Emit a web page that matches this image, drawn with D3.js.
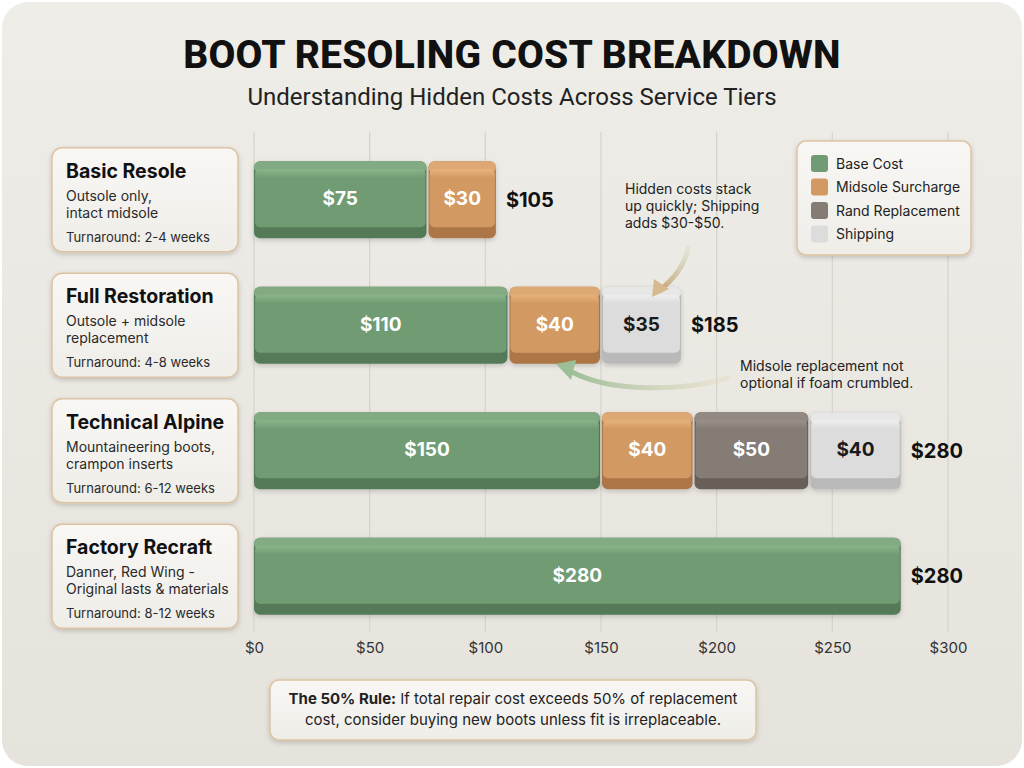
<!DOCTYPE html>
<html><head><meta charset="utf-8">
<script src="https://cdn.jsdelivr.net/npm/d3@7"></script>
<style>
html,body{margin:0;padding:0;background:#fff;}
svg{display:block;font-family:Inter,"Noto Sans",sans-serif;}
</style></head>
<body><svg id="c" width="1024" height="768"></svg>
<script>
const categories = ["Basic Resole","Full Restoration","Technical Alpine","Factory Recraft"];
const descLine1 = ["Outsole only,","Outsole + midsole","Mountaineering boots,","Danner, Red Wing -"];
const descLine2 = ["intact midsole","replacement","crampon inserts","Original lasts & materials"];
const turnaround = ["Turnaround: 2-4 weeks","Turnaround: 4-8 weeks","Turnaround: 6-12 weeks","Turnaround: 8-12 weeks"];
const seriesNames = ["Base Cost","Midsole Surcharge","Rand Replacement","Shipping"];
const baseCost = [75,110,150,280];
const midsole = [30,40,40,0];
const rand = [0,0,50,0];
const shipping = [0,35,40,0];
const tickValues = [0,50,100,150,200,250,300];
const tickLabels = ["$0","$50","$100","$150","$200","$250","$300"];

const colors = {
  "Base Cost":{top:"#8bb48b",mid:"#719c73",dark:"#557a58",text:"#fff"},
  "Midsole Surcharge":{top:"#e6b27c",mid:"#d29a62",dark:"#ad7646",text:"#fff"},
  "Rand Replacement":{top:"#9a918a",mid:"#857c75",dark:"#675f59",text:"#fff"},
  "Shipping":{top:"#efefef",mid:"#dcdcdc",dark:"#b9b9b9",text:"#1a1a1a"}
};

const svg = d3.select("#c");
const defs = svg.append("defs");

const bg = defs.append("linearGradient").attr("id","bg").attr("x1",0).attr("y1",0).attr("x2",0).attr("y2",1);
bg.append("stop").attr("offset","0").attr("stop-color","#efede8");
bg.append("stop").attr("offset","1").attr("stop-color","#e6e3dc");
svg.append("rect").attr("x",2).attr("y",2).attr("width",1020).attr("height",764).attr("rx",26).attr("fill","url(#bg)");

const sh = defs.append("filter").attr("id","sh").attr("x","-10%").attr("y","-10%").attr("width","120%").attr("height","130%");
sh.append("feDropShadow").attr("dx",0).attr("dy",2).attr("stdDeviation",2.5).attr("flood-color","#000").attr("flood-opacity",0.18);

const cardG = defs.append("linearGradient").attr("id","card").attr("x1",0).attr("y1",0).attr("x2",0).attr("y2",1);
cardG.append("stop").attr("offset","0").attr("stop-color","#f8f7f4");
cardG.append("stop").attr("offset","1").attr("stop-color","#efede8");

Object.entries(colors).forEach(([k,c],i)=>{
  const g = defs.append("linearGradient").attr("id","g"+i).attr("x1",0).attr("y1",0).attr("x2",0).attr("y2",1);
  g.append("stop").attr("offset","0").attr("stop-color",c.top);
  g.append("stop").attr("offset","0.15").attr("stop-color",c.mid);
  g.append("stop").attr("offset","1").attr("stop-color",c.mid);
});

svg.append("text").attr("x",512).attr("y",68).attr("text-anchor","middle")
  .attr("font-size",39).attr("font-weight",800).attr("fill","#111").attr("font-family","Roboto, Inter, sans-serif")
  .attr("letter-spacing",0.2).text("BOOT RESOLING COST BREAKDOWN");
svg.append("text").attr("x",512).attr("y",105).attr("text-anchor","middle")
  .attr("font-size",24).attr("fill","#222").attr("font-family","Roboto, Inter, sans-serif")
  .text("Understanding Hidden Costs Across Service Tiers");

const x = d3.scaleLinear().domain([0,300]).range([254,948]);
const y = d3.scaleBand().domain(categories).range([137,639]);

svg.append("g").selectAll("line").data(tickValues).join("line")
  .attr("x1",d=>x(d)).attr("x2",d=>x(d)).attr("y1",132).attr("y2",632)
  .attr("stroke","#d6d3cc").attr("stroke-width",1.2);

const axis = d3.axisBottom(x).tickValues(tickValues).tickFormat((d,i)=>tickLabels[i]).tickSize(0).tickPadding(0);
const ag = svg.append("g").attr("transform","translate(0,642)").call(axis);
ag.select(".domain").remove();
ag.selectAll("text").attr("font-size",15).attr("fill","#333").attr("font-family","Inter, sans-serif");

const cards = svg.append("g").selectAll("g").data(categories).join("g")
  .attr("transform",d=>`translate(52,${y(d)+y.bandwidth()/2-52})`);
cards.append("rect").attr("width",186).attr("height",104).attr("rx",10)
  .attr("fill","url(#card)").attr("stroke","#dcc3a3").attr("stroke-width",1.5).attr("filter","url(#sh)");
cards.append("text").attr("x",14).attr("y",30).attr("font-size",19.5).attr("font-weight",700).attr("fill","#111").text(d=>d);
cards.append("text").attr("x",14).attr("y",53).attr("font-size",14).attr("fill","#2a2a2a").text((d,i)=>descLine1[i]);
cards.append("text").attr("x",14).attr("y",70).attr("font-size",14).attr("fill","#2a2a2a").text((d,i)=>descLine2[i]);
cards.append("text").attr("x",14).attr("y",94).attr("font-size",13).attr("fill","#2a2a2a").text((d,i)=>turnaround[i]);

const table = categories.map((c,i)=>({cat:c,"Base Cost":baseCost[i],"Midsole Surcharge":midsole[i],"Rand Replacement":rand[i],"Shipping":shipping[i]}));
const stacked = d3.stack().keys(seriesNames)(table);
const barH = 77;
const segs = [];
stacked.forEach((s,si)=>s.forEach(d=>{ if(d[1]-d[0]>0) segs.push({key:s.key,si,cat:d.data.cat,x0:d[0],x1:d[1],v:d[1]-d[0]}); }));

const bars = svg.append("g").selectAll("g").data(segs).join("g");
bars.each(function(d){
  const g = d3.select(this);
  const c = colors[d.key];
  const x0 = x(d.x0)+ (d.x0>0?1:0), x1 = x(d.x1)-1;
  const yt = y(d.cat)+y.bandwidth()/2-barH/2;
  g.append("rect").attr("x",x0).attr("y",yt).attr("width",x1-x0).attr("height",barH).attr("rx",6)
    .attr("fill",c.dark).attr("filter","url(#sh)");
  g.append("rect").attr("x",x0).attr("y",yt).attr("width",x1-x0).attr("height",12).attr("rx",6)
    .attr("fill",c.top).attr("opacity",0.85);
  g.append("rect").attr("x",x0+1).attr("y",yt+8).attr("width",x1-x0-2).attr("height",barH-19).attr("rx",5)
    .attr("fill",`url(#g${d.si})`);
  g.append("text").attr("x",(x0+x1)/2).attr("y",yt+8+(barH-19)/2+7).attr("text-anchor","middle")
    .attr("font-size",19).attr("font-weight",700).attr("fill",c.text).text("$"+d.v);
});

const totals = table.map(r=>seriesNames.reduce((a,k)=>a+r[k],0));
svg.append("g").selectAll("text").data(categories).join("text")
  .attr("x",(d,i)=>x(totals[i])+9).attr("y",d=>y(d)+y.bandwidth()/2+7)
  .attr("font-size",20).attr("font-weight",700).attr("fill","#111").text((d,i)=>"$"+totals[i]);

const lg = svg.append("g").attr("transform","translate(797,141)");
lg.append("rect").attr("width",174).attr("height",114).attr("rx",9).attr("fill","url(#card)")
  .attr("stroke","#dcc3a3").attr("stroke-width",1.5).attr("filter","url(#sh)");
const li = lg.selectAll("g").data(seriesNames).join("g").attr("transform",(d,i)=>`translate(14,${14+i*23.5})`);
li.append("rect").attr("width",17).attr("height",17).attr("rx",3).attr("fill",d=>colors[d].mid);
li.append("text").attr("x",25).attr("y",13.5).attr("font-size",14).attr("fill","#222").text(d=>d);

const ann1 = ["Hidden costs stack","up quickly; Shipping","adds $30-$50."];
svg.append("g").selectAll("text").data(ann1).join("text")
  .attr("x",625).attr("y",(d,i)=>194+i*17).attr("font-size",14).attr("fill","#222").text(d=>d);
const ann2 = ["Midsole replacement not","optional if foam crumbled."];
svg.append("g").selectAll("text").data(ann2).join("text")
  .attr("x",740).attr("y",(d,i)=>371+i*17).attr("font-size",14).attr("fill","#222").text(d=>d);

const ag1 = defs.append("linearGradient").attr("id","ar1").attr("x1",0).attr("y1",0).attr("x2",0).attr("y2",1);
ag1.append("stop").attr("offset","0").attr("stop-color","#c9d8b8").attr("stop-opacity",0.3);
ag1.append("stop").attr("offset","1").attr("stop-color","#c7a678");
svg.append("path").attr("d","M688,248 C684,268 672,280 660,290").attr("fill","none")
  .attr("stroke","url(#ar1)").attr("stroke-width",5).attr("stroke-linecap","round");
svg.append("path").attr("d","M652,297 L654,279 L669,289 Z").attr("fill","#d6b98d");

const ag2 = defs.append("linearGradient").attr("id","ar2").attr("x1",1).attr("y1",0).attr("x2",0).attr("y2",0);
ag2.append("stop").attr("offset","0").attr("stop-color","#e6d9bf").attr("stop-opacity",0.4);
ag2.append("stop").attr("offset","1").attr("stop-color","#9dbf98");
svg.append("path").attr("d","M728,378 C680,392 610,392 572,372").attr("fill","none")
  .attr("stroke","url(#ar2)").attr("stroke-width",5).attr("stroke-linecap","round");
svg.append("path").attr("d","M556,364 L576,360 L571,380 Z").attr("fill","#9dbf98");

const nb = svg.append("g").attr("transform","translate(270,680)");
nb.append("rect").attr("width",486).attr("height",60).attr("rx",9).attr("fill","url(#card)")
  .attr("stroke","#dcc3a3").attr("stroke-width",1.5).attr("filter","url(#sh)");
const t1 = nb.append("text").attr("x",243).attr("y",24).attr("text-anchor","middle").attr("font-size",15).attr("fill","#222");
t1.append("tspan").attr("font-weight",700).text("The 50% Rule:");
t1.append("tspan").text(" If total repair cost exceeds 50% of replacement");
nb.append("text").attr("x",243).attr("y",45).attr("text-anchor","middle").attr("font-size",15).attr("fill","#222")
  .text("cost, consider buying new boots unless fit is irreplaceable.");
</script></body></html>
